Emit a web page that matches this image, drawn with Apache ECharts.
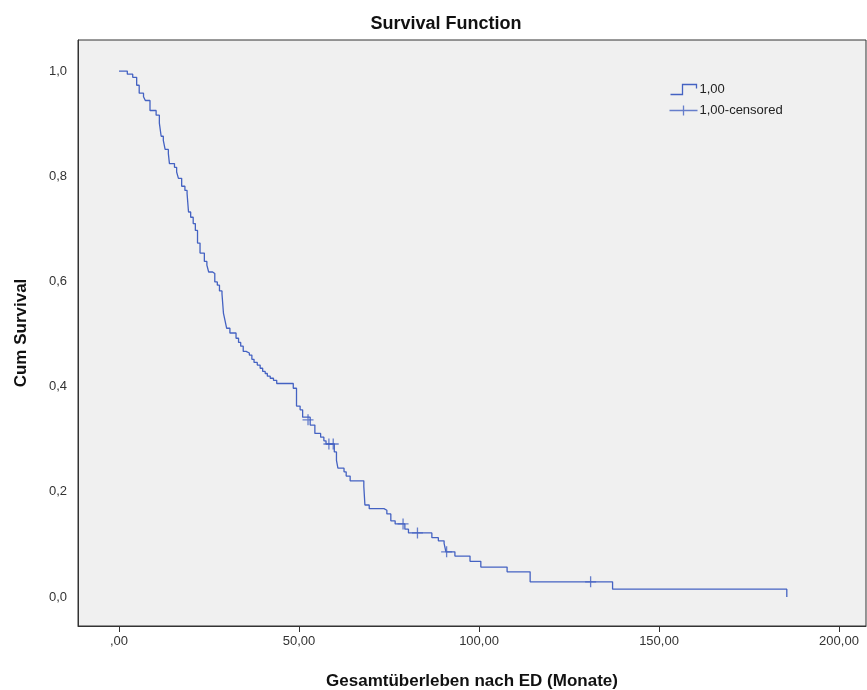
<!DOCTYPE html>
<html>
<head>
<meta charset="utf-8">
<script src="https://cdn.jsdelivr.net/npm/echarts@6/dist/echarts.min.js"></script>
<style>
html,body{margin:0;padding:0;background:#fff;}
#chart{width:867px;height:690px;}
</style>
</head>
<body>
<div id="chart"></div>
<script>
// Kaplan-Meier step data: event time (months) and survival after that event
const eventTimes = [0, 2.3, 3.8, 4.9, 5.6, 6.8, 7.3, 8.6, 10.3, 11.2, 11.7, 12.3, 12.8, 13.7, 14.0, 15.4, 16.0, 16.5, 17.4, 18.3, 18.9, 19.3, 19.9, 20.6, 21.2, 21.8, 22.5, 23.7, 24.4, 24.9, 26.0, 26.6, 27.3, 27.9, 28.6, 29.0, 29.4, 29.9, 30.8, 32.5, 33.2, 33.8, 34.5, 35.3, 36.2, 36.9, 37.5, 38.4, 39.2, 39.9, 40.6, 41.2, 42.0, 42.9, 43.8, 48.4, 49.3, 50.3, 51.0, 53.1, 54.4, 56.0, 56.9, 57.5, 59.8, 60.4, 60.8, 62.5, 63.1, 64.2, 68.0, 68.3, 69.5, 73.6, 74.4, 75.5, 76.7, 79.4, 80.4, 86.9, 88.7, 90.3, 90.8, 93.3, 97.5, 100.5, 107.8, 114.2, 137.1, 185.5];
const survival   = [1.0, 0.994, 0.988, 0.973, 0.958, 0.951, 0.944, 0.925, 0.916, 0.901, 0.876, 0.868, 0.851, 0.843, 0.824, 0.817, 0.808, 0.796, 0.781, 0.773, 0.767, 0.732, 0.722, 0.710, 0.697, 0.673, 0.654, 0.638, 0.631, 0.618, 0.615, 0.599, 0.593, 0.582, 0.576, 0.540, 0.527, 0.511, 0.502, 0.492, 0.484, 0.477, 0.467, 0.464, 0.460, 0.452, 0.446, 0.441, 0.435, 0.429, 0.425, 0.420, 0.416, 0.412, 0.406, 0.397, 0.363, 0.356, 0.342, 0.327, 0.311, 0.304, 0.297, 0.291, 0.276, 0.260, 0.245, 0.238, 0.230, 0.221, 0.210, 0.175, 0.168, 0.165, 0.158, 0.145, 0.139, 0.129, 0.122, 0.113, 0.107, 0.102, 0.086, 0.078, 0.068, 0.057, 0.048, 0.029, 0.015, 0.0];
// Censored observations
const censorTimes = [52.5, 58.3, 59.5, 78.9, 82.9, 91.0, 131.0];
const censorSurv  = [0.337, 0.291, 0.291, 0.139, 0.122, 0.086, 0.029];
// Axis ticks
const xTicks = [0, 50, 100, 150, 200];
const yTicks = [0, 0.2, 0.4, 0.6, 0.8, 1.0];

const lineColor = '#4462c2';
const stepData = eventTimes.map((t, i) => [t, survival[i]]);
const censorData = censorTimes.map((t, i) => [t, censorSurv[i]]);

const chart = echarts.init(document.getElementById('chart'), null, {renderer: 'canvas'});
const font = 'Liberation Sans, Arial, sans-serif';
chart.setOption({
  animation: false,
  backgroundColor: '#ffffff',
  title: {
    text: 'Survival Function',
    left: 441, top: 10, textAlign: 'center',
    textStyle: {fontFamily: font, fontSize: 18, fontWeight: 'bold', color: '#111'}
  },
  legend: {
    orient: 'vertical',
    left: 662, top: 77,
    itemGap: 6,
    itemWidth: 28, itemHeight: 10,
    textStyle: {fontFamily: font, fontSize: 13, color: '#222', padding: [0, 0, 0, -3]},
    data: [
      {name: '1,00', icon: 'path://M0,10 L12,10 L12,0 L26,0 L26,4', itemStyle: {color: 'none', borderColor: lineColor, borderWidth: 1.3}},
      {name: '1,00-censored', icon: 'path://M0,5 L28,5 M14,0 L14,10', itemStyle: {color: 'none', borderColor: lineColor, borderWidth: 1.3}}
    ]
  },
  grid: {
    left: 78, top: 40, right: 1, bottom: 64,
    outerBoundsMode: 'none', containLabel: false,
    show: true, backgroundColor: '#f0f0f0', borderColor: '#333', borderWidth: 1
  },
  xAxis: {
    type: 'value', min: -11.4, max: 207.5,
    name: 'Gesamtüberleben nach ED (Monate)',
    nameLocation: 'middle', nameGap: 47,
    nameTextStyle: {fontFamily: font, fontSize: 17, fontWeight: 'bold', color: '#111'},
    axisLine: {show: true, onZero: false, lineStyle: {color: '#333'}},
    axisTick: {show: true, length: 6, customValues: xTicks, lineStyle: {color: '#333'}},
    axisLabel: {
      customValues: xTicks, margin: 9,
      fontFamily: font, fontSize: 13, color: '#333',
      formatter: v => v === 0 ? ',00' : v.toFixed(2).replace('.', ',')
    },
    splitLine: {show: false}
  },
  yAxis: {
    type: 'value', min: -0.055, max: 1.059,
    name: 'Cum Survival',
    nameLocation: 'middle', nameGap: 48, nameRotate: 90,
    nameTextStyle: {fontFamily: font, fontSize: 17, fontWeight: 'bold', color: '#111'},
    axisLine: {show: true, onZero: false, lineStyle: {color: '#333'}},
    axisTick: {show: false, customValues: yTicks},
    axisLabel: {
      customValues: yTicks, margin: 11,
      fontFamily: font, fontSize: 13, color: '#333',
      formatter: v => v.toFixed(1).replace('.', ',')
    },
    splitLine: {show: false}
  },
  series: [
    {
      name: '1,00', type: 'line', step: 'end', data: stepData,
      showSymbol: false, symbol: 'none',
      lineStyle: {color: lineColor, width: 1.3},
      itemStyle: {color: lineColor}
    },
    {
      name: '1,00-censored', type: 'scatter', data: censorData,
      symbol: 'path://M0,5 L10,5 M5,0 L5,10', symbolSize: 11,
      itemStyle: {color: 'none', borderColor: lineColor, borderWidth: 1.3}
    }
  ]
});
</script>
</body>
</html>
